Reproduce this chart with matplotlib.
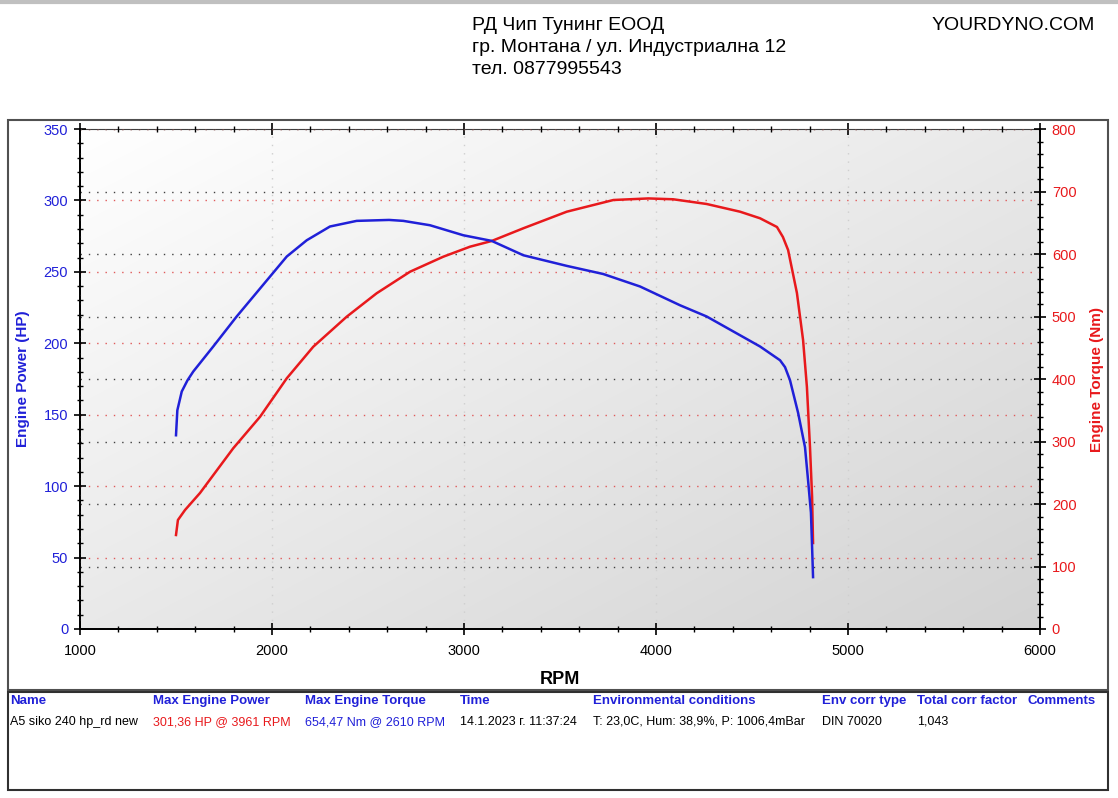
import numpy as np
import matplotlib
matplotlib.use('Agg')
import matplotlib.pyplot as plt
from matplotlib.ticker import MultipleLocator
from matplotlib.patches import Rectangle
from matplotlib.lines import Line2D
from matplotlib.colors import LinearSegmentedColormap

plt.rcParams['font.family'] = ['Liberation Sans', 'DejaVu Sans']

# --- данни, отчетени от графиката ---
power_rpm = [1500, 1510, 1547, 1625, 1798, 1938, 2077, 2215, 2389, 2545, 2719, 2892,
             3031, 3144, 3309, 3535, 3778, 3961, 4090, 4264, 4438, 4542, 4630, 4661, 4688,
             4734, 4766, 4786, 4802, 4813, 4818]
power_hp = [65.8, 76.3, 83.3, 95.2, 126.5, 148.6, 175.5, 197.6, 218.6, 235.0, 250.1, 260.6,
            267.6, 271.6, 280.5, 292.1, 300.3, 301.4, 300.8, 297.5, 292.1, 287.5, 281.4, 274.4, 265.3,
            235.2, 202.3, 169.4, 127.4, 92.4, 60.2]

torque_rpm = [1500, 1507, 1530, 1560, 1590, 1694, 1816, 1903, 1990, 2077, 2181, 2302, 2441,
              2610, 2684, 2823, 2996, 3144, 3309, 3535, 3725, 3917, 4125, 4264, 4542,
              4646, 4672, 4698, 4740, 4776, 4792, 4807, 4813, 4818]
torque_nm = [310, 350, 380, 398, 412, 452, 500, 532, 564, 596, 622, 644, 653,
             654.5, 653, 646, 630, 621, 598, 581, 568, 548, 518, 500, 452,
             430, 419, 398, 346, 291, 238, 186, 131, 83]

header_lines = ['РД Чип Тунинг ЕООД', 'гр. Монтана / ул. Индустриална 12', 'тел. 0877995543']
site = 'YOURDYNO.COM'

table_cols = ['Name', 'Max Engine Power', 'Max Engine Torque', 'Time',
              'Environmental conditions', 'Env corr type', 'Total corr factor', 'Comments']
table_vals = ['A5 siko 240 hp_rd new', '301,36 HP @ 3961 RPM', '654,47 Nm @ 2610 RPM',
              '14.1.2023 г. 11:37:24', 'T: 23,0C, Hum: 38,9%, P: 1006,4mBar',
              'DIN 70020', '1,043', '']
col_x = [10, 153, 305, 460, 593, 822, 917, 1027]

W, H = 1118, 798
BLUE = '#2020d8'
RED = '#e8191c'


def px(x, y):
    """пиксели -> координати на фигурата"""
    return x / W, 1 - y / H


fig = plt.figure(figsize=(W / 100, H / 100), dpi=100)

# рамки
fig.add_artist(Line2D([0, 1], [1 - 2 / H, 1 - 2 / H], color='#c0c0c0', lw=3))
fig.add_artist(Rectangle(px(8, 690), 1100 / W, 570 / H, fill=False,
                         ec='#505050', lw=1.5, transform=fig.transFigure))
fig.add_artist(Rectangle(px(8, 790), 1100 / W, 98 / H, fill=False,
                         ec='#303030', lw=1.5, transform=fig.transFigure))

# заглавие
for i, t in enumerate(header_lines):
    fig.text(*px(472, 25 + i * 22), t, fontsize=14, va='center', ha='left')
fig.text(*px(1095, 25), site, fontsize=14, va='center', ha='right')

ax = fig.add_axes([80 / W, (H - 629) / H, 960 / W, 500 / H])
ax2 = ax.twinx()

# градиентен фон
bg_cmap = LinearSegmentedColormap.from_list('bg', ['#ffffff', '#d3d3d3'])
grad = np.add.outer(np.linspace(0, 1, 200), np.linspace(0, 1, 200)) / 2
ax.imshow(grad, cmap=bg_cmap, vmin=0, vmax=1, extent=[0, 1, 0, 1],
          transform=ax.transAxes, aspect='auto', zorder=0, interpolation='bicubic')

ax.set_xlim(1000, 6000)
ax.set_ylim(0, 350)
ax2.set_ylim(0, 800)

ax.xaxis.set_major_locator(MultipleLocator(1000))
ax.xaxis.set_minor_locator(MultipleLocator(200))
ax.yaxis.set_major_locator(MultipleLocator(50))
ax.yaxis.set_minor_locator(MultipleLocator(10))
ax2.yaxis.set_major_locator(MultipleLocator(100))
ax2.yaxis.set_minor_locator(MultipleLocator(20))

# мрежа
ax.grid(True, axis='y', which='major', color='#e05a5a', ls=(0, (1, 5)), lw=1)
ax.grid(True, axis='x', which='major', color='#cfcfcf', ls=(0, (1, 5)), lw=1)
ax2.grid(True, axis='y', which='major', color='#404040', ls=(0, (1, 5)), lw=1)
ax.set_axisbelow(False)

ax2.plot(power_rpm, power_hp, color=RED, lw=1.8, transform=ax.transData)
ax2.plot(torque_rpm, torque_nm, color=BLUE, lw=1.8)

for a in (ax, ax2):
    for s in a.spines.values():
        s.set_color('black')
        s.set_linewidth(1.3)
ax.spines['top'].set_color('#404040')
ax.spines['top'].set_linewidth(0.8)
ax2.spines['top'].set_visible(False)

ax.tick_params(axis='x', which='both', direction='inout', top=True, labelsize=10.5, pad=6)
ax.tick_params(axis='x', which='major', length=9, width=1.2)
ax.tick_params(axis='x', which='minor', length=5, width=1)
ax.tick_params(axis='y', which='both', direction='inout', labelsize=10.5,
               labelcolor=BLUE, pad=4)
ax.tick_params(axis='y', which='major', length=9, width=1.2)
ax.tick_params(axis='y', which='minor', length=5, width=1)
ax2.tick_params(axis='y', which='both', direction='inout', labelsize=10.5,
                labelcolor=RED, pad=4)
ax2.tick_params(axis='y', which='major', length=9, width=1.2)
ax2.tick_params(axis='y', which='minor', length=5, width=1)

ax.set_xlabel('RPM', fontsize=13, fontweight='bold', labelpad=10)
ax.set_ylabel('Engine Power (HP)', fontsize=11, fontweight='bold', color=BLUE, labelpad=10)
ax2.set_ylabel('Engine Torque (Nm)', fontsize=11, fontweight='bold', color=RED, labelpad=10)

# таблица отдолу
for cx, name, val in zip(col_x, table_cols, table_vals):
    fig.text(*px(cx, 701), name, fontsize=9.5, fontweight='bold', color=BLUE, va='center')
    c = RED if name == 'Max Engine Power' else (BLUE if name == 'Max Engine Torque' else 'black')
    fig.text(*px(cx, 722), val, fontsize=9, color=c, va='center')

fig.savefig('out.png', dpi=100)
